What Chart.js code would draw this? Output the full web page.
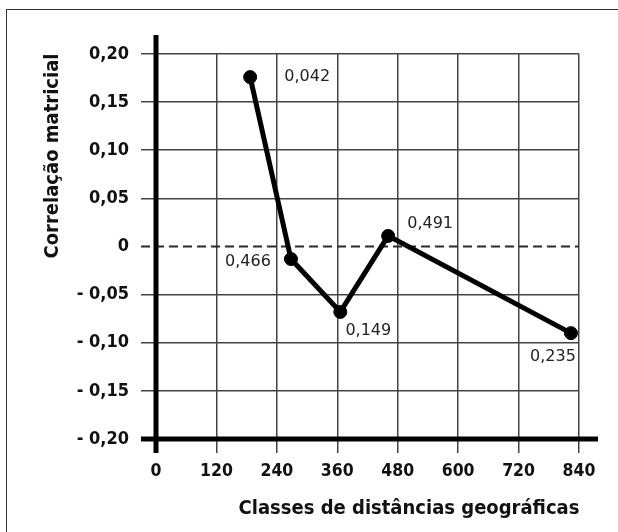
<!DOCTYPE html>
<html lang="pt">
<head>
<meta charset="utf-8">
<title>Correlação matricial</title>
<script src="https://cdn.jsdelivr.net/npm/chart.js@4.4.1/dist/chart.umd.min.js"></script>
<style>
  html, body { margin: 0; padding: 0; background: #fff; }
  #wrap { position: relative; width: 618px; height: 532px; overflow: hidden; }
  #moldura { position: absolute; left: 6px; top: 9px; width: 700px; height: 600px; border: 1.5px solid #333; }
  #grafico { position: absolute; left: 0; top: 0; }
</style>
</head>
<body>
<div id="wrap">
  <div id="moldura"></div>
  <canvas id="grafico" width="618" height="532"></canvas>
</div>
<script>
// Dados do correlograma
const distancias   = [187, 268, 366, 461, 824];
const correlacoes  = [0.176, -0.013, -0.068, 0.011, -0.090];
const rotulosPonto = ['0,042', '0,466', '0,149', '0,491', '0,235'];

const xTicks  = [0, 120, 240, 360, 480, 600, 720, 840];
const xRotulos = ['0', '120', '240', '360', '480', '600', '720', '840'];
const yTicks  = [-0.20, -0.15, -0.10, -0.05, 0, 0.05, 0.10, 0.15, 0.20];
const yRotulos = ['- 0,20', '- 0,15', '- 0,10', '- 0,05', '0', '0,05', '0,10', '0,15', '0,20'];

const tituloX = 'Classes de distâncias geográficas';
const tituloY = 'Correlação matricial';

// deslocamento (px) de cada rótulo em relação ao seu ponto
const deslocRotulos = [[57, 0], [-43, 3], [28, 19], [42, -12], [-18, 24]];

const fonteTick = '"DejaVu Sans Condensed", "DejaVu Sans", sans-serif';

// Linha tracejada no zero, eixos grossos e títulos
const extras = {
  id: 'extras',
  beforeDatasetsDraw(chart) {
    const { ctx, scales: { x, y } } = chart;
    const x0 = x.getPixelForValue(0);
    const y0 = y.getPixelForValue(0);
    const yMin = y.getPixelForValue(-0.2);
    const yMax = y.getPixelForValue(0.2);
    ctx.save();
    // zero
    ctx.strokeStyle = '#2a2a2a';
    ctx.lineWidth = 2;
    ctx.setLineDash([9, 5]);
    ctx.beginPath();
    ctx.moveTo(x0 - 15, y0);
    ctx.lineTo(x.getPixelForValue(840), y0);
    ctx.stroke();
    ctx.setLineDash([]);
    // eixos
    ctx.strokeStyle = '#000';
    ctx.lineWidth = 5;
    ctx.beginPath();
    ctx.moveTo(x0, yMax - 19);
    ctx.lineTo(x0, yMin + 14);
    ctx.moveTo(x0 - 15, yMin);
    ctx.lineTo(598, yMin);
    ctx.stroke();
    ctx.restore();
  },
  afterDraw(chart) {
    const { ctx } = chart;
    const meta = chart.getDatasetMeta(0);
    ctx.save();
    ctx.fillStyle = '#222';
    ctx.font = '16px "DejaVu Sans", sans-serif';
    ctx.textAlign = 'center';
    ctx.textBaseline = 'middle';
    meta.data.forEach((pt, i) => {
      const [dx, dy] = deslocRotulos[i];
      ctx.fillText(rotulosPonto[i], pt.x + dx, pt.y + dy);
    });
    // títulos dos eixos
    ctx.fillStyle = '#111';
    ctx.font = 'bold 20px ' + fonteTick;
    ctx.textBaseline = 'alphabetic';
    ctx.fillText(tituloX, 409, 514);
    ctx.translate(58, 156);
    ctx.rotate(-Math.PI / 2);
    ctx.fillText(tituloY, 0, 0);
    ctx.restore();
  }
};

new Chart(document.getElementById('grafico'), {
  type: 'line',
  data: {
    datasets: [{
      data: distancias.map((d, i) => ({ x: d, y: correlacoes[i] })),
      borderColor: '#000',
      borderWidth: 5,
      backgroundColor: '#000',
      pointRadius: 6.5,
      pointBorderWidth: 1,
      pointBorderColor: '#000',
      tension: 0
    }]
  },
  options: {
    responsive: false,
    animation: false,
    layout: { padding: { left: 0, top: 54, right: 39, bottom: 0 } },
    plugins: { legend: { display: false }, tooltip: { enabled: false } },
    scales: {
      x: {
        type: 'linear',
        min: 0,
        max: 840,
        afterFit: s => { s.height = 93; },
        afterBuildTicks: s => { s.ticks = xTicks.map(v => ({ value: v })); },
        grid: { color: '#444', lineWidth: 1.5, tickLength: 14 },
        border: { display: false },
        ticks: {
          padding: 8,
          color: '#111',
          font: { family: fonteTick, size: 17.5, weight: 'bold' },
          callback: (v, i) => xRotulos[i]
        }
      },
      y: {
        min: -0.2,
        max: 0.2,
        afterFit: s => { s.width = 156; },
        afterBuildTicks: s => { s.ticks = yTicks.map(v => ({ value: v })); },
        grid: {
          color: c => (c.tick && c.tick.value === 0) ? 'rgba(0,0,0,0)' : '#444',
          lineWidth: 1.5,
          tickLength: 15
        },
        border: { display: false },
        ticks: {
          padding: 12,
          color: '#111',
          font: { family: fonteTick, size: 18, weight: 'bold' },
          callback: (v, i) => yRotulos[i]
        }
      }
    }
  },
  plugins: [extras]
});
</script>
</body>
</html>
